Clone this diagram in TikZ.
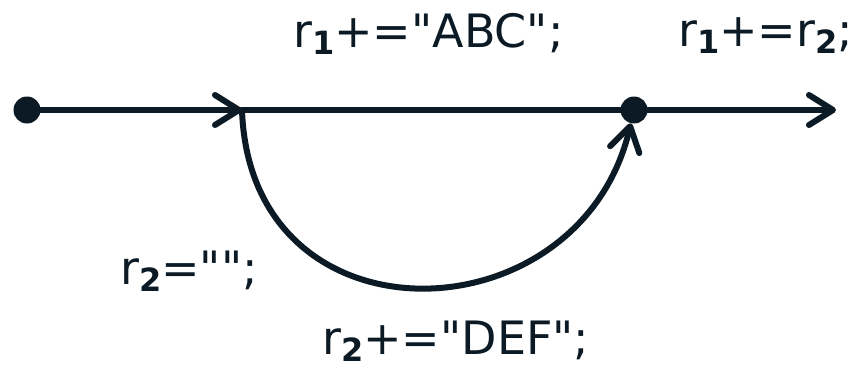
\documentclass[tikz,border=0pt]{standalone}
\usepackage{fontspec}
\setmainfont{DejaVu Sans}[Ligatures=TeXOff]
\usepackage{tikz}
\usetikzlibrary{arrows.meta,calc,positioning}
\definecolor{ink}{HTML}{0B1A24}
\newcommand{\rsub}[1]{\raisebox{-7pt}{\fontsize{32}{32}\selectfont\bfseries #1}}
\tikzset{
    mydot/.style={circle,fill=ink,inner sep=0pt,minimum size=27pt},
    myedge/.style={line width=6pt,draw=ink,line cap=round,line join=round},
    myarrow/.style={-{Straight Barb[length=24pt,width=30pt,line cap=round,line join=round]}},
    mylabel/.style={anchor=base west,inner sep=0pt,text=ink,font=\fontsize{46}{50}\selectfont}
}
\begin{document}
\begin{tikzpicture}[x=1pt,y=-1pt]
  \useasboundingbox (0,0) rectangle (862,369);
  \node[mydot] (s) at (27,110) {};
  \node[mydot] (e) at (634,110) {};
  \coordinate (m) at (242,110);
  \coordinate (t) at (836,110);

  \draw[myedge,myarrow] (s) -- (m);
  \draw[myedge] (m) -- (e);
  \draw[myedge,myarrow] (e) -- (t);
  \draw[myedge,myarrow] (m) .. controls (250,350) and (580,340) .. (e);

  \node[mylabel] (l1) at (293,48)  {r\rsub{1}+="ABC";};
  \node[mylabel] (l2) at (678,47)  {r\rsub{1}+=r\rsub{2};};
  \node[mylabel] (l3) at (120,284) {r\rsub{2}="";};
  \node[mylabel] (l4) at (322,354) {r\rsub{2}+="DEF";};
\end{tikzpicture}
\end{document}
